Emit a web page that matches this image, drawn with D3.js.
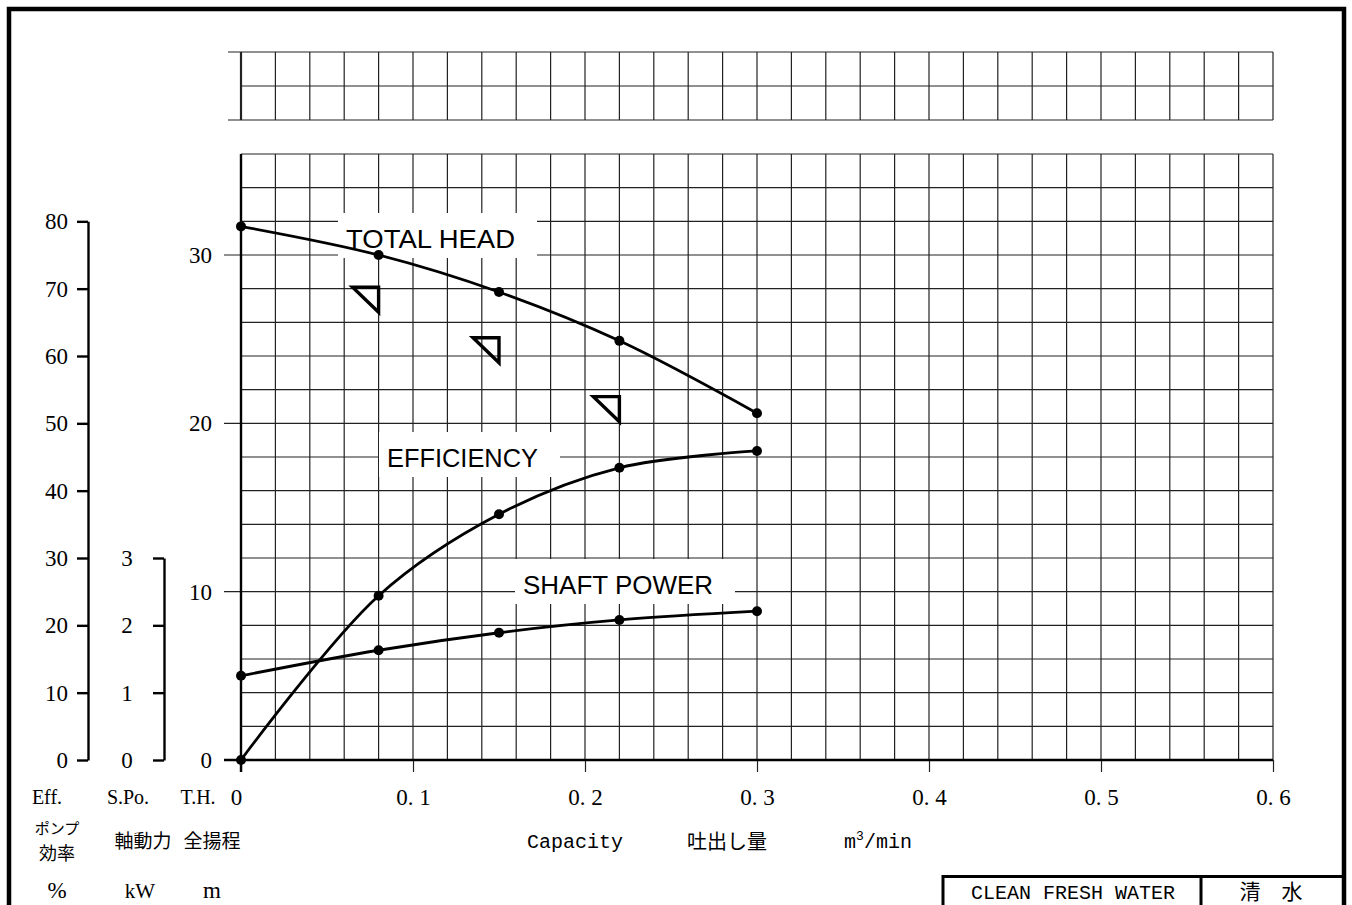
<!DOCTYPE html>
<html lang="ja">
    <head>
        <meta charset="utf-8">
        <title>Pump Performance Curve</title>
        <script src="https://d3js.org/d3.v7.min.js"></script>
        <style type="text/css">
        body { margin: 0; background: #fff; }
        svg text { fill: #000; }
        </style>
    </head>
    <body>
        <script type="text/javascript">

//1. Data
const capacity   = [0, 0.08, 0.15, 0.22, 0.30];        // m3/min
const totalHead  = [31.7, 30.0, 27.8, 24.9, 20.6];     // m
const efficiency = [0, 24.4, 36.5, 43.4, 45.9];        // %
const shaftPower = [1.25, 1.63, 1.89, 2.08, 2.21];     // kW

// tolerance marks (bottom corner of each triangle)
const tolCapacity = [0.080, 0.150, 0.220];
const tolHead     = [26.6, 23.6, 20.1];

const xTicks    = [0, 0.1, 0.2, 0.3, 0.4, 0.5, 0.6];
const headTicks = [0, 10, 20, 30];
const effTicks  = [0, 10, 20, 30, 40, 50, 60, 70, 80];
const powTicks  = [0, 1, 2, 3];

//2. Layout consts
const svgWidth = 1352;
const svgHeight = 905;
const x0 = 241, x1 = 1273;
const yBase = 760, yTopMain = 154;
const gridColor = "#222";
const serif = "'Liberation Serif', 'DejaVu Serif', serif";
const mono = "'Liberation Mono', 'DejaVu Sans Mono', monospace";
const sans = "'Liberation Sans', Arial, sans-serif";
const cjk = "'Noto Sans CJK JP', sans-serif";

//3. Scales
const xScale = d3.scaleLinear().domain([0, 0.6]).range([x0, x1]);
const yHead = d3.scaleLinear().domain([0, 36]).range([yBase, yTopMain]);
const yEff = d3.scaleLinear().domain([0, 80]).range([yBase, yHead(32)]);
const yPow = d3.scaleLinear().domain([0, 3]).range([yBase, yHead(12)]);
const yTopGrid = d3.scaleLinear().domain([0, 2]).range([120, 52]);

//4. SVG
const svg = d3.select("body")
    .append("svg")
    .attr("width", svgWidth)
    .attr("height", svgHeight);

svg.append("rect")
    .attr("width", svgWidth)
    .attr("height", svgHeight)
    .attr("fill", "#fff");

// outer frame
svg.append("path")
    .attr("d", "M9,910 V9 H1344 V910")
    .attr("fill", "none")
    .attr("stroke", "#000")
    .attr("stroke-width", 4.5);

//5. Grids
const colSteps = d3.range(0, 31).map(i => i * 0.02);

// top small grid
const topGrid = svg.append("g");
topGrid.selectAll("line.v")
    .data(colSteps)
    .enter()
    .append("line")
    .attr("x1", d => xScale(d))
    .attr("x2", d => xScale(d))
    .attr("y1", yTopGrid(2))
    .attr("y2", yTopGrid(0))
    .attr("stroke", gridColor)
    .attr("stroke-width", (d, i) => i === 0 ? 2.2 : 1.2);
topGrid.selectAll("line.h")
    .data([0, 1, 2])
    .enter()
    .append("line")
    .attr("x1", d => d === 1 ? x0 : x0 - 13)
    .attr("x2", x1)
    .attr("y1", d => yTopGrid(d))
    .attr("y2", d => yTopGrid(d))
    .attr("stroke", gridColor)
    .attr("stroke-width", 1.2);

// main grid
const grid = svg.append("g");
grid.selectAll("line.v")
    .data(colSteps.slice(1))
    .enter()
    .append("line")
    .attr("x1", d => xScale(d))
    .attr("x2", d => xScale(d))
    .attr("y1", yHead(36))
    .attr("y2", yBase)
    .attr("stroke", gridColor)
    .attr("stroke-width", 1.2);
grid.selectAll("line.h")
    .data(d3.range(2, 37, 2))
    .enter()
    .append("line")
    .attr("x1", d => headTicks.includes(d) ? x0 - 17 : x0)
    .attr("x2", x1)
    .attr("y1", d => yHead(d))
    .attr("y2", d => yHead(d))
    .attr("stroke", gridColor)
    .attr("stroke-width", 1.2);

//6. Curve labels with white backing (they cut the grid, not the curves)
const curveLabels = [
    {text: "TOTAL HEAD", x: 346, y: 248, len: 169},
    {text: "EFFICIENCY", x: 387, y: 467, len: 151},
    {text: "SHAFT POWER", x: 523, y: 594, len: 190}
];
curveLabels.forEach(l => {
    svg.append("rect")
        .attr("x", l.x - 8)
        .attr("y", l.y - 35)
        .attr("width", l.len + 30)
        .attr("height", 45)
        .attr("fill", "#fff");
    svg.append("text")
        .attr("x", l.x)
        .attr("y", l.y)
        .attr("font-family", sans)
        .attr("font-size", "26px")
        .attr("textLength", l.len)
        .attr("lengthAdjust", "spacingAndGlyphs")
        .text(l.text);
});

//7. Axes
// x axis (bold baseline, major ticks hang below)
const bottomAxis = d3.axisBottom(xScale)
    .tickValues(xTicks)
    .tickSize(12)
    .tickSizeOuter(0)
    .tickFormat(d => d === 0 ? "0" : d3.format(".1f")(d).replace(".", ". "));
const gx = svg.append("g")
    .attr("transform", "translate(0," + yBase + ")")
    .call(bottomAxis);
gx.select(".domain").remove();
gx.selectAll(".tick line").attr("stroke", gridColor).attr("stroke-width", 1.2);
gx.selectAll(".tick text")
    .attr("y", 45)
    .attr("dy", 0)
    .attr("font-family", serif)
    .attr("font-size", "23px")
    .attr("dx", d => d === 0 ? -5 : 0);

// bold axis lines
svg.append("line")
    .attr("x1", x0 - 17).attr("x2", x1)
    .attr("y1", yBase).attr("y2", yBase)
    .attr("stroke", "#000").attr("stroke-width", 2.4);
svg.append("line")
    .attr("x1", x0).attr("x2", x0)
    .attr("y1", yHead(36)).attr("y2", yBase + 12)
    .attr("stroke", "#000").attr("stroke-width", 2.4);

// head labels
svg.selectAll("text.th")
    .data(headTicks)
    .enter()
    .append("text")
    .attr("x", 212)
    .attr("y", d => yHead(d) + 8)
    .attr("text-anchor", "end")
    .attr("font-family", serif)
    .attr("font-size", "23px")
    .text(d => d);

// efficiency axis
const effAxis = d3.axisLeft(yEff)
    .tickValues(effTicks)
    .tickSize(11)
    .tickSizeOuter(0)
    .tickPadding(9)
    .tickFormat(d3.format("d"));
const ge = svg.append("g")
    .attr("transform", "translate(88,0)")
    .call(effAxis);

// shaft power axis
const powAxis = d3.axisLeft(yPow)
    .tickValues(powTicks)
    .tickSize(11)
    .tickSizeOuter(0)
    .tickPadding(28)
    .tickFormat(d3.format("d"));
const gp = svg.append("g")
    .attr("transform", "translate(164,0)")
    .call(powAxis);

[ge, gp].forEach(g => {
    g.select(".domain").attr("stroke", "#000").attr("stroke-width", 2.4);
    g.selectAll(".tick line").attr("stroke", "#000").attr("stroke-width", 2.4);
    g.selectAll(".tick text")
        .attr("font-family", serif)
        .attr("font-size", "23px")
        .attr("fill", "#000");
});
gp.selectAll(".tick text").attr("text-anchor", "middle").attr("x", -37);

//8. Curves
const curveData = [efficiency, totalHead, shaftPower];
const curveScales = [yEff, yHead, yPow];
curveData.forEach((vals, k) => {
    const pts = capacity.map((q, i) => [xScale(q), curveScales[k](vals[i])]);
    svg.append("path")
        .attr("d", d3.line().curve(d3.curveCatmullRom.alpha(0.5))(pts))
        .attr("fill", "none")
        .attr("stroke", "#000")
        .attr("stroke-width", 2.8);
    svg.selectAll(null)
        .data(pts)
        .enter()
        .append("circle")
        .attr("cx", d => d[0])
        .attr("cy", d => d[1])
        .attr("r", 5)
        .attr("fill", "#000");
});

// tolerance triangles
svg.selectAll(null)
    .data(tolCapacity.map((q, i) => [xScale(q), yHead(tolHead[i])]))
    .enter()
    .append("path")
    .attr("d", d => `M${d[0]},${d[1]} V${d[1] - 25} H${d[0] - 26} Z`)
    .attr("fill", "none")
    .attr("stroke", "#000")
    .attr("stroke-width", 3.4)
    .attr("stroke-linejoin", "miter");

//9. Axis captions
const captions = [
    {t: "Eff.", x: 47, y: 804, f: serif, s: 20},
    {t: "S.Po.", x: 128, y: 804, f: serif, s: 20},
    {t: "T.H.", x: 198, y: 804, f: serif, s: 20},
    {t: "ポンプ", x: 57, y: 834, f: cjk, s: 15},
    {t: "効率", x: 57, y: 860, f: cjk, s: 18},
    {t: "軸動力", x: 143, y: 848, f: cjk, s: 19},
    {t: "全揚程", x: 212, y: 848, f: cjk, s: 19},
    {t: "%", x: 57, y: 898, f: serif, s: 23},
    {t: "kW", x: 140, y: 898, f: serif, s: 21},
    {t: "m", x: 212, y: 898, f: serif, s: 23},
    {t: "Capacity", x: 575, y: 848, f: mono, s: 20},
    {t: "吐出し量", x: 727, y: 849, f: cjk, s: 20}
];
captions.forEach(c => {
    svg.append("text")
        .attr("x", c.x)
        .attr("y", c.y)
        .attr("text-anchor", "middle")
        .attr("font-family", c.f)
        .attr("font-size", c.s + "px")
        .text(c.t);
});
const unit = svg.append("text")
    .attr("x", 878)
    .attr("y", 848)
    .attr("text-anchor", "middle")
    .attr("font-family", mono)
    .attr("font-size", "20px");
unit.append("tspan").text("m");
unit.append("tspan").attr("font-size", "13px").attr("dy", -8).text("3");
unit.append("tspan").attr("dy", 8).text("/min");

//10. Bottom right title box
svg.append("path")
    .attr("d", "M943,910 V876.5 H1344 M1201,876.5 V910")
    .attr("fill", "none")
    .attr("stroke", "#000")
    .attr("stroke-width", 3);
svg.append("text")
    .attr("x", 1073)
    .attr("y", 899)
    .attr("text-anchor", "middle")
    .attr("font-family", mono)
    .attr("font-size", "21px")
    .attr("textLength", 204)
    .attr("lengthAdjust", "spacingAndGlyphs")
    .text("CLEAN FRESH WATER");
svg.append("text")
    .attr("x", 1271)
    .attr("y", 899)
    .attr("text-anchor", "middle")
    .attr("font-family", cjk)
    .attr("font-size", "21px")
    .text("清　水");

</script>
</body>
</html>
